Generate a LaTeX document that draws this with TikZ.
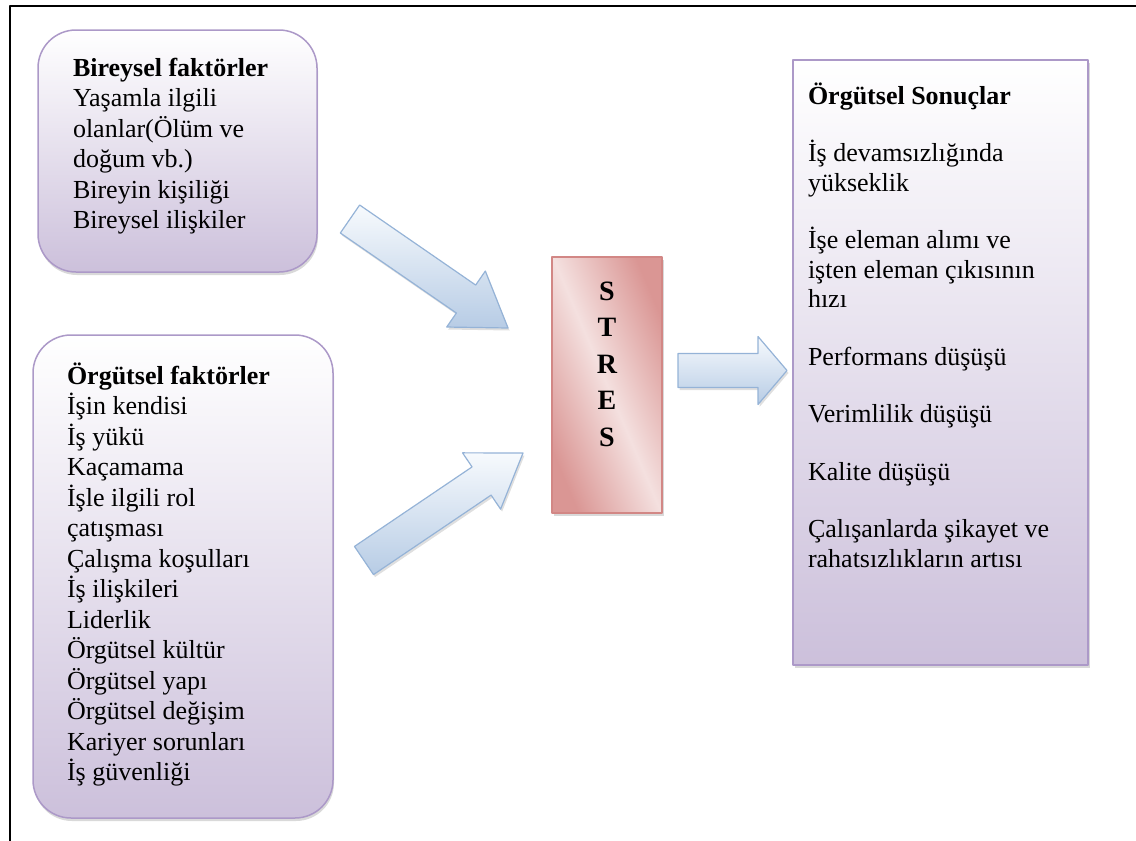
\documentclass[tikz,border=0pt]{standalone}
\usepackage{fontspec}
\setmainfont{Liberation Serif}
\usetikzlibrary{calc,shadows}

\definecolor{boxline}{RGB}{172,153,200}
\definecolor{boxbot}{RGB}{204,192,219}
\definecolor{stresdark}{RGB}{218,150,148}
\definecolor{streslight}{RGB}{244,224,223}
\definecolor{stresline}{RGB}{210,135,133}
\definecolor{arrline}{RGB}{149,179,215}
\definecolor{arrbot}{RGB}{183,204,229}
\definecolor{arrtop}{RGB}{247,250,253}

% block arrow: from, to, head length, name of the neck point
\newcommand{\blockarrow}[4]{%
  \coordinate (#4) at ($(#2)!#3!(#1)$);
  \draw[flowarrow] ($(#1)!17pt!90:(#2)$) -- ($(#4)!17pt!90:(#2)$)
    -- ($(#4)!34pt!90:(#2)$) -- (#2) -- ($(#4)!34pt!-90:(#2)$)
    -- ($(#4)!17pt!-90:(#2)$) -- ($(#1)!17pt!-90:(#2)$) -- cycle;}

\begin{document}
\begin{tikzpicture}[x=1pt, y=-1pt, line join=round,
    font=\fontsize{26pt}{30.5pt}\selectfont,
    softbox/.style={draw=boxline, line width=1.5pt, rounded corners=38pt,
      top color=white, bottom color=boxbot, inner ysep=0pt,
      drop shadow={shadow xshift=1pt, shadow yshift=-3pt, opacity=0.3}},
    sonucbox/.style={draw=boxline, line width=1.5pt,
      top color=white, bottom color=boxbot, inner ysep=0pt, inner xsep=15pt,
      drop shadow={shadow xshift=2pt, shadow yshift=-3pt, opacity=0.3}},
    stresbox/.style={draw=stresline, line width=1.5pt,
      left color=stresdark, right color=stresdark, middle color=streslight,
      shading angle=113, inner sep=0pt,
      drop shadow={shadow xshift=2pt, shadow yshift=-3pt, opacity=0.3}},
    flowarrow/.style={draw=arrline, line width=1.2pt,
      top color=arrtop, bottom color=arrbot,
      drop shadow={shadow xshift=1.5pt, shadow yshift=-2.5pt, opacity=0.25}}]
  \useasboundingbox (0,0) rectangle (1136,841);
  \draw[line width=2.5pt] (1136,6) -- (10,6) -- (10,841);

  % causes
  \node[softbox, minimum width=279pt, minimum height=242pt, inner xsep=35pt]
    (bireysel) at (177.5,151) {\parbox[c][242pt][t]{209pt}{\raggedright
      \rule{0pt}{46pt}\textbf{Bireysel faktörler}\\Yaşamla ilgili\\
      olanlar(Ölüm ve\\doğum vb.)\\Bireyin kişiliği\\Bireysel ilişkiler}};
  \node[softbox, minimum width=300pt, minimum height=483pt, inner xsep=34pt]
    (orgutsel) at (183,576.5) {\parbox[c][483pt][t]{232pt}{\raggedright
      \rule{0pt}{49pt}\textbf{Örgütsel faktörler}\\İşin kendisi\\İş yükü\\
      Kaçamama\\İşle ilgili rol\\çatışması\\Çalışma koşulları\\İş ilişkileri\\
      Liderlik\\Örgütsel kültür\\Örgütsel yapı\\Örgütsel değişim\\
      Kariyer sorunları\\İş güvenliği}};

  % stress
  \node[stresbox, minimum width=110pt, minimum height=256pt]
    (stres) at (607,385) {\parbox[c][256pt][t]{110pt}{\centering\bfseries
      \fontsize{28pt}{36.5pt}\selectfont\rule{0pt}{43pt}S\\T\\R\\E\\S}};

  % results
  \node[sonucbox, minimum width=295pt, minimum height=605pt]
    (sonuc) at (940.5,362.5) {\parbox[c][605pt][t]{265pt}{\raggedright
      \fontsize{26pt}{29.5pt}\selectfont
      \rule{0pt}{44pt}\textbf{Örgütsel Sonuçlar}\\[28pt]
      İş devamsızlığında\\yükseklik\\[28pt]
      İşe eleman alımı ve\\işten eleman çıkısının\\hızı\\[28pt]
      Performans düşüşü\\[28pt]
      Verimlilik düşüşü\\[28pt]
      Kalite düşüşü\\[28pt]
      Çalışanlarda şikayet ve\\rahatsızlıkların artısı}};

  % arrows
  \coordinate (birOut) at (350,219);   \coordinate (stresInA) at (508,328);
  \coordinate (orgOut) at (364,560.5); \coordinate (stresInB) at (523,453);
  \coordinate (stresOut) at (678,370.5); \coordinate (sonucIn) at (787,370.5);
  \blockarrow{birOut}{stresInA}{51pt}{neckA}
  \blockarrow{orgOut}{stresInB}{50pt}{neckB}
  \blockarrow{stresOut}{sonucIn}{29pt}{neckC}
\end{tikzpicture}
\end{document}
